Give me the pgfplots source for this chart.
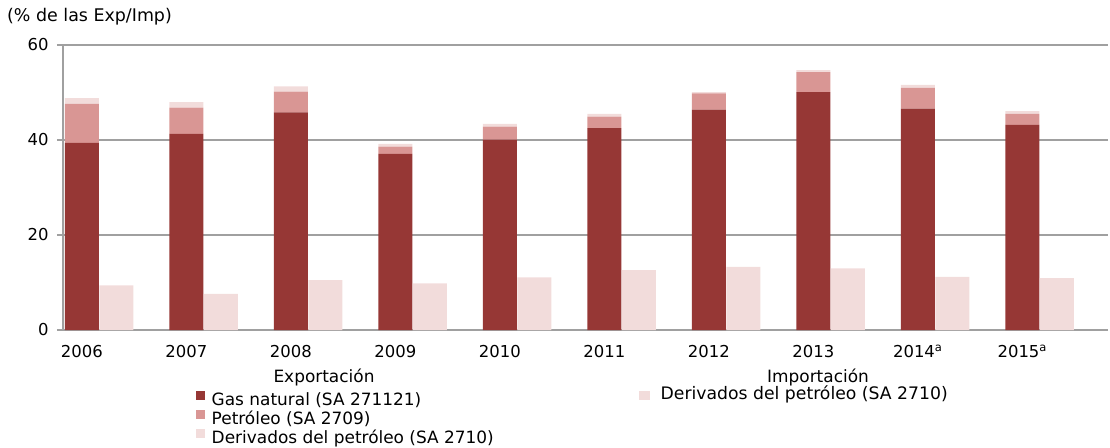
\documentclass[border=0pt]{standalone}
\usepackage{pgfplots}
\usepackage{pgfplotstable}
\pgfplotsset{compat=1.18}
\usepackage{fontspec}
\setmainfont{DejaVu Sans}
\definecolor{gas}{HTML}{963735}
\definecolor{pet}{HTML}{D99694}
\definecolor{der}{HTML}{F2DCDB}
\definecolor{gridc}{RGB}{160,160,160}

\pgfplotstableread{
x     gas   pet  der
0.18  39.4  8.2  1.2
1.18  41.3  5.5  1.2
2.18  45.8  4.4  1.1
3.18  37.1  1.5  0.6
4.18  40.1  2.7  0.6
5.18  42.5  2.4  0.6
6.18  46.4  3.4  0.3
7.18  50.1  4.2  0.4
8.18  46.6  4.4  0.6
9.18  43.2  2.3  0.6
}\exptable

\pgfplotstableread{
x     imp
0.51  9.4
1.51  7.6
2.51  10.5
3.51  9.8
4.51  11.1
5.51  12.6
6.51  13.3
7.51  13.0
8.51  11.2
9.51  10.9
}\imptable

\pgfplotsset{mybase/.style={
  scale only axis, width=1045bp, height=285bp,
  xmin=0, xmax=10, ymin=0, ymax=60,
  bar width=34bp,
  legend cell align=left,
}}

\begin{document}
\begin{tikzpicture}
\path[use as bounding box] (-63bp,-118bp) rectangle (1047bp,330bp);
\begin{axis}[mybase,
  ybar stacked,
  axis x line*=bottom, axis y line*=left,
  axis line style={gridc, line width=1.2bp, -},
  ytick={0,20,40,60},
  ymajorgrids, grid style={gridc, line width=1.2bp},
  xtick={0.18,1.18,2.18,3.18,4.18,5.18,6.18,7.18,8.18,9.18},
  xticklabels={2006,2007,2008,2009,2010,2011,2012,2013,{2014\textsuperscript{a}},{2015\textsuperscript{a}}},
  xtick style={draw=none},
  ytick style={gridc, line width=1.2bp},
  tick align=outside, major tick length=6bp,
  tick label style={font=\fontsize{16.5}{19}\selectfont},
  xticklabel style={text height=12bp, text depth=0bp, yshift=-6bp},
  yticklabel style={xshift=-5bp},
  /pgf/number format/assume math mode=true,
  legend image code/.code={\fill[#1, draw=none] (0bp,-1bp) rectangle (9bp,8bp);},
  legend style={draw=none, fill=none, inner sep=0pt,
    font=\fontsize{17}{20}\selectfont,
    anchor=north west, at={(0.1273,-0.2123)},
    row sep=1bp, column sep=5bp,
    nodes={inner sep=1.5bp}},
]
\addplot[fill=gas, draw=none] table[x=x, y=gas] {\exptable};
\addplot[fill=pet, draw=none] table[x=x, y=pet] {\exptable};
\addplot[fill=der, draw=none] table[x=x, y=der] {\exptable};
\legend{Gas natural (SA 271121), Petróleo (SA 2709), Derivados del petróleo (SA 2710)}
\end{axis}
\begin{axis}[mybase,
  ybar, bar shift=0pt,
  hide axis,
  legend style={draw=none, fill=none, inner sep=0pt,
    font=\fontsize{17.3}{20}\selectfont,
    anchor=north west, at={(0.5512,-0.1912)},
    column sep=9bp,
    nodes={inner sep=1.5bp}},
  legend image code/.code={\fill[#1, draw=none] (0bp,-6bp) rectangle (11bp,3bp);},
]
\addplot[fill=der, draw=none] table[x=x, y=imp] {\imptable};
\legend{Derivados del petróleo (SA 2710)}
\end{axis}
\node[font=\fontsize{17}{20}\selectfont] at (261bp,-47bp) {Exportación};
\node[font=\fontsize{17}{20}\selectfont] at (755bp,-47bp) {Importación};
\node[font=\fontsize{17.5}{20}\selectfont, anchor=west, inner sep=0pt] at (-56bp,313bp) {(\% de las Exp/Imp)};
\end{tikzpicture}
\end{document}
